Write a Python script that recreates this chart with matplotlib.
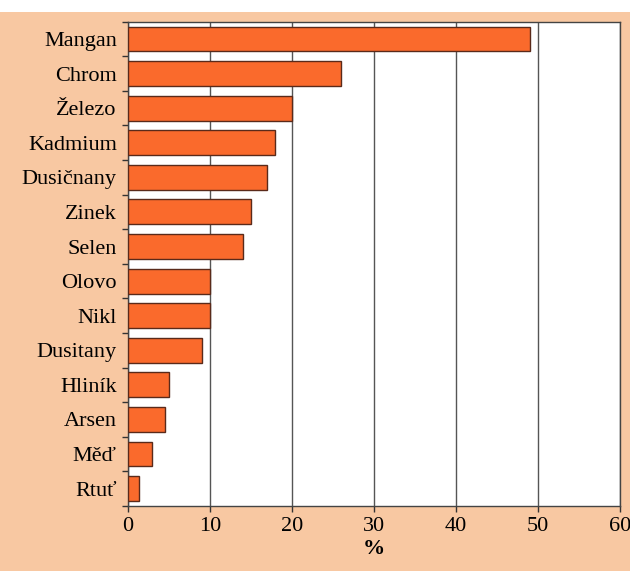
import numpy as np
import matplotlib
matplotlib.use('Agg')
import matplotlib.pyplot as plt
from matplotlib.patches import Rectangle

plt.rcParams['font.family'] = ['Liberation Serif', 'DejaVu Serif']

# data
prvky = ['Mangan', 'Chrom', 'Železo', 'Kadmium', 'Dusičnany', 'Zinek', 'Selen',
         'Olovo', 'Nikl', 'Dusitany', 'Hliník', 'Arsen', 'Měď', 'Rtuť']
procenta = [49, 26, 20, 18, 17, 15, 14, 10, 10, 9, 5, 4.5, 3, 1.3]
x_ticks = [0, 10, 20, 30, 40, 50, 60]

peach = '#f8c8a2'
bar_color = '#fa6a2c'

fig = plt.figure(figsize=(6.3, 5.71), dpi=100, facecolor=peach)
# white strip at the top of the scan
fig.patches.append(Rectangle((0, 1 - 12 / 571), 1, 12 / 571, transform=fig.transFigure,
                             facecolor='white', edgecolor='none', zorder=0))

ax = fig.add_axes([0.203, 0.114, 0.781, 0.848])
ax.set_facecolor('white')

y = np.arange(len(prvky))
ax.barh(y, procenta, height=0.72, color=bar_color, edgecolor='#5a2a1a', linewidth=1.0, zorder=3)

ax.set_xlim(0, 60)
ax.set_ylim(len(prvky) - 0.5, -0.5)
ax.set_xticks(x_ticks)
ax.set_xticklabels([str(t) for t in x_ticks], fontsize=16)
ax.set_yticks(y)
ax.set_yticklabels(prvky, fontsize=16)
ax.tick_params(axis='y', length=0, pad=8)
# small ticks between categories
ax.set_yticks(np.arange(-0.5, len(prvky), 1), minor=True)
ax.tick_params(axis='y', which='minor', length=4, width=1, color='#333333', direction='out')
ax.tick_params(axis='x', length=4, width=1, color='#333333', pad=4)

ax.xaxis.grid(True, color='#555555', linewidth=1.0, zorder=0)
ax.set_axisbelow(True)
for s in ax.spines.values():
    s.set_color('#444444')
    s.set_linewidth(1.0)

ax.set_xlabel('%', fontsize=16, fontweight='bold', labelpad=2)

fig.savefig('out.png', dpi=100, facecolor=peach)
